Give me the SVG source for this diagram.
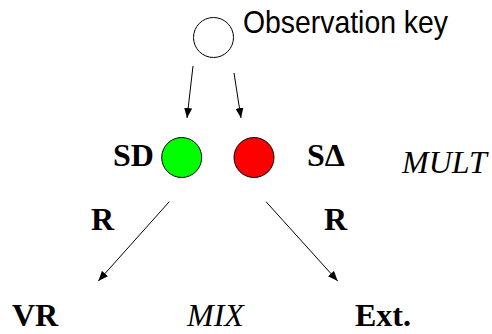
<svg xmlns="http://www.w3.org/2000/svg" width="492" height="334" viewBox="0 0 492 334">
<style>
.lbl{font-family:"Liberation Serif","Times New Roman",serif;font-size:32px;fill:#000}
.b{font-weight:bold}
.i{font-style:italic}
.node{stroke:#000;stroke-width:1}
.edge{stroke:#000;stroke-width:1;fill:none;marker-end:url(#ah)}
</style>
<defs>
<marker id="ah" markerUnits="userSpaceOnUse" markerWidth="10" markerHeight="8" refX="10" refY="4" orient="auto">
<path d="M0,0 L10,4 L0,8 Z" fill="#000"/>
</marker>
</defs>
<g id="key">
<circle class="node" cx="213.5" cy="37.5" r="20" fill="#fff"/>
<text x="243" y="33" font-family="Liberation Sans, Arial, sans-serif" font-size="32" textLength="205" lengthAdjust="spacingAndGlyphs">Observation key</text>
</g>
<g id="sd">
<circle class="node" cx="181.7" cy="157.5" r="20" fill="#00ff00"/>
<text class="lbl b" x="113" y="166">SD</text>
</g>
<g id="sdelta">
<circle class="node" cx="254" cy="157.5" r="20" fill="#ff0000"/>
<text class="lbl b" x="307" y="166">SΔ</text>
</g>
<g id="mult"><text class="lbl i" x="402" y="173">MULT</text></g>
<g id="vr"><text class="lbl b" x="12" y="326">VR</text></g>
<g id="mix"><text class="lbl i" x="187" y="326">MIX</text></g>
<g id="ext"><text class="lbl b" x="355" y="326">Ext.</text></g>
<g id="connectors">
<line class="edge" x1="193" y1="66" x2="187" y2="118"/>
<line class="edge" x1="234" y1="73" x2="241" y2="118"/>
<line class="edge" x1="169.3" y1="201.7" x2="98.3" y2="281"/>
<line class="edge" x1="266" y1="201.7" x2="337.7" y2="281"/>
<text class="lbl b" x="91" y="230">R</text>
<text class="lbl b" x="324" y="230">R</text>
</g>
</svg>
